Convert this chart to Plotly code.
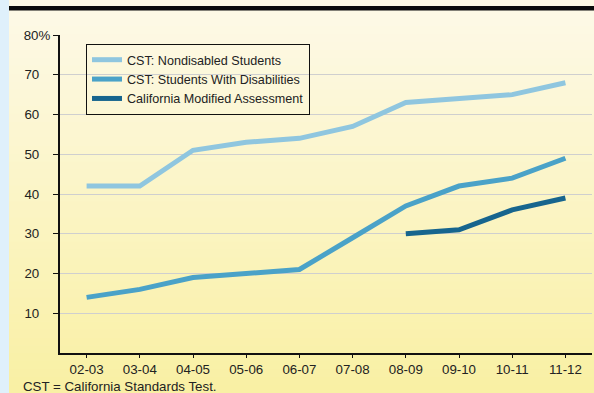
import plotly.graph_objects as go

years = ["02-03", "03-04", "04-05", "05-06", "06-07", "07-08", "08-09", "09-10", "10-11", "11-12"]
nondisabled = [42, 42, 51, 53, 54, 57, 63, 64, 65, 68]
disabilities = [14, 16, 19, 20, 21, 29, 37, 42, 44, 49]
cma_years = ["08-09", "09-10", "10-11", "11-12"]
cma = [30, 31, 36, 39]

NB = "\u00a0"
y_ticks = [10, 20, 30, 40, 50, 60, 70, 80]
y_ticktext = ["10" + NB * 3, "20" + NB * 3, "30" + NB * 3, "40" + NB * 3,
              "50" + NB * 3, "60" + NB * 3, "70" + NB * 3, "80%"]

W, H = 594, 393
ML, MR, MT, MB = 60, 2, 35, 40
PW, PH = W - ML - MR, H - MT - MB

def px_x(p):
    return (p - ML) / PW

def px_y(p):
    return (H - MB - p) / PH

fig = go.Figure()
fig.add_trace(go.Scatter(x=years, y=nondisabled, mode="lines", name="CST: Nondisabled Students",
                         line=dict(color="#8fc6df", width=5)))
fig.add_trace(go.Scatter(x=years, y=disabilities, mode="lines", name="CST: Students With Disabilities",
                         line=dict(color="#4aa2c8", width=5)))
fig.add_trace(go.Scatter(x=cma_years, y=cma, mode="lines", name="California Modified Assessment",
                         line=dict(color="#17658e", width=5)))

shapes = []
# gradient background
top_c = (253, 249, 231)
bot_c = (249, 240, 163)
N = 48
y_start, y_end = 10, H
for i in range(N):
    p0 = y_start + (y_end - y_start) * i / N
    p1 = y_start + (y_end - y_start) * (i + 1) / N
    t = (i + 0.5) / N
    c = tuple(round(top_c[k] + (bot_c[k] - top_c[k]) * t) for k in range(3))
    shapes.append(dict(type="rect", xref="paper", yref="paper", layer="below",
                       x0=px_x(0), x1=px_x(W), y0=px_y(p1 + 0.5), y1=px_y(p0),
                       fillcolor="rgb(%d,%d,%d)" % c, line=dict(width=0)))
# top strip above black bar
shapes.append(dict(type="rect", xref="paper", yref="paper", layer="below",
                   x0=px_x(0), x1=px_x(W), y0=px_y(6), y1=px_y(0),
                   fillcolor="#fdf8e4", line=dict(width=0)))
# black bar
shapes.append(dict(type="rect", xref="paper", yref="paper", layer="below",
                   x0=px_x(0), x1=px_x(W), y0=px_y(10.5), y1=px_y(6),
                   fillcolor="#0a0a0a", line=dict(width=0)))
# left blue strip
shapes.append(dict(type="rect", xref="paper", yref="paper", layer="below",
                   x0=px_x(0), x1=px_x(9), y0=px_y(H), y1=px_y(0),
                   fillcolor="#dff0fb", line=dict(width=0)))

fig.update_layout(
    width=W, height=H,
    margin=dict(l=ML, r=MR, t=MT, b=MB),
    paper_bgcolor="#fbf4c8",
    plot_bgcolor="rgba(0,0,0,0)",
    font=dict(family="Liberation Sans, Arial, sans-serif", size=13, color="#222222"),
    shapes=shapes,
    showlegend=True,
    legend=dict(x=px_x(86), y=px_y(44), xanchor="left", yanchor="top",
                bgcolor="rgba(0,0,0,0)", bordercolor="#111111", borderwidth=1,
                font=dict(size=12.6, color="#222222"), tracegroupgap=0, itemwidth=30),
    annotations=[dict(text="CST = California Standards Test.", xref="paper", yref="paper",
                      x=px_x(21), y=px_y(386), xanchor="left", yanchor="middle",
                      showarrow=False, font=dict(size=13.3, color="#222222"))],
)
fig.update_xaxes(type="category", range=[-0.5, 9.5], showgrid=False,
                 showline=True, linecolor="#111111", linewidth=2,
                 ticks="outside", ticklen=3, tickcolor="#111111", tickwidth=1,
                 tickfont=dict(size=13.3, color="#222222"))
fig.update_yaxes(range=[0, 80], tickvals=y_ticks, ticktext=y_ticktext,
                 showgrid=True, gridcolor="#cfcfcf", gridwidth=1,
                 showline=True, linecolor="#111111", linewidth=2,
                 ticks="outside", ticklen=5, tickcolor="#111111", tickwidth=1,
                 tickfont=dict(size=13.3, color="#222222"), zeroline=False)

fig.write_html("out.html")
